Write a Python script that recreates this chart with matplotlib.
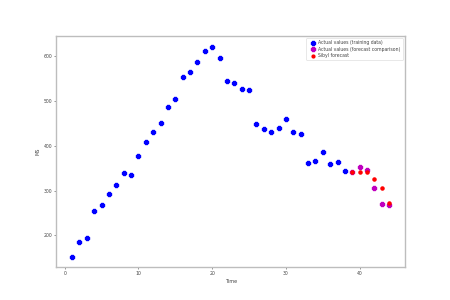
import numpy as np
import matplotlib
matplotlib.use('Agg')
import matplotlib.pyplot as plt

# training data (time steps 1..38)
TRAIN_T = list(range(1, 39))
TRAIN_Y = [153, 185, 195, 254, 267, 293, 312, 339, 336, 378,
           408, 431, 452, 488, 504, 555, 566, 587, 613, 622,
           596, 546, 541, 526, 524, 450, 438, 430, 441, 460,
           432, 426, 361, 366, 386, 359, 364, 344]

# actual values held back for comparison
COMP_T = [39, 40, 41, 42, 43, 44]
COMP_Y = [342, 353, 346, 306, 271, 267]

# forecast
FC_T = [39, 40, 41, 42, 43, 44]
FC_Y = [342, 341, 341, 326, 306, 273]

GRAY = '#bdbdbd'
TXT = '#444444'

fig = plt.figure(figsize=(4.5, 3), dpi=100)
ax = fig.add_subplot(111)

ax.scatter(TRAIN_T, TRAIN_Y, color='blue', marker='P', s=7,
           label='Actual values (training data)')
ax.scatter(COMP_T, COMP_Y, color='m', marker='P', s=7,
           label='Actual values (forecast comparison)')
ax.scatter(FC_T, FC_Y, color='red', marker='o', s=5,
           label='Sibyl forecast')

ax.set_xlabel('Time', fontsize=3.5, color=TXT, labelpad=2)
ax.set_ylabel('MS', fontsize=3.5, color=TXT, labelpad=2)
ax.set_xticks([0, 10, 20, 30, 40])
ax.set_yticks([200, 300, 400, 500, 600])
ax.tick_params(labelsize=3.3, colors=TXT, length=1.5, width=0.4, pad=1.5)
for sp in ax.spines.values():
    sp.set_color(GRAY)
    sp.set_linewidth(1.0)

leg = ax.legend(loc='upper right', fontsize=3.3, markerscale=0.9,
                handletextpad=0.3, borderpad=0.4, labelspacing=0.3)
leg.get_frame().set_linewidth(0.4)
for t in leg.get_texts():
    t.set_color(TXT)

plt.savefig('out.png', dpi=100)
